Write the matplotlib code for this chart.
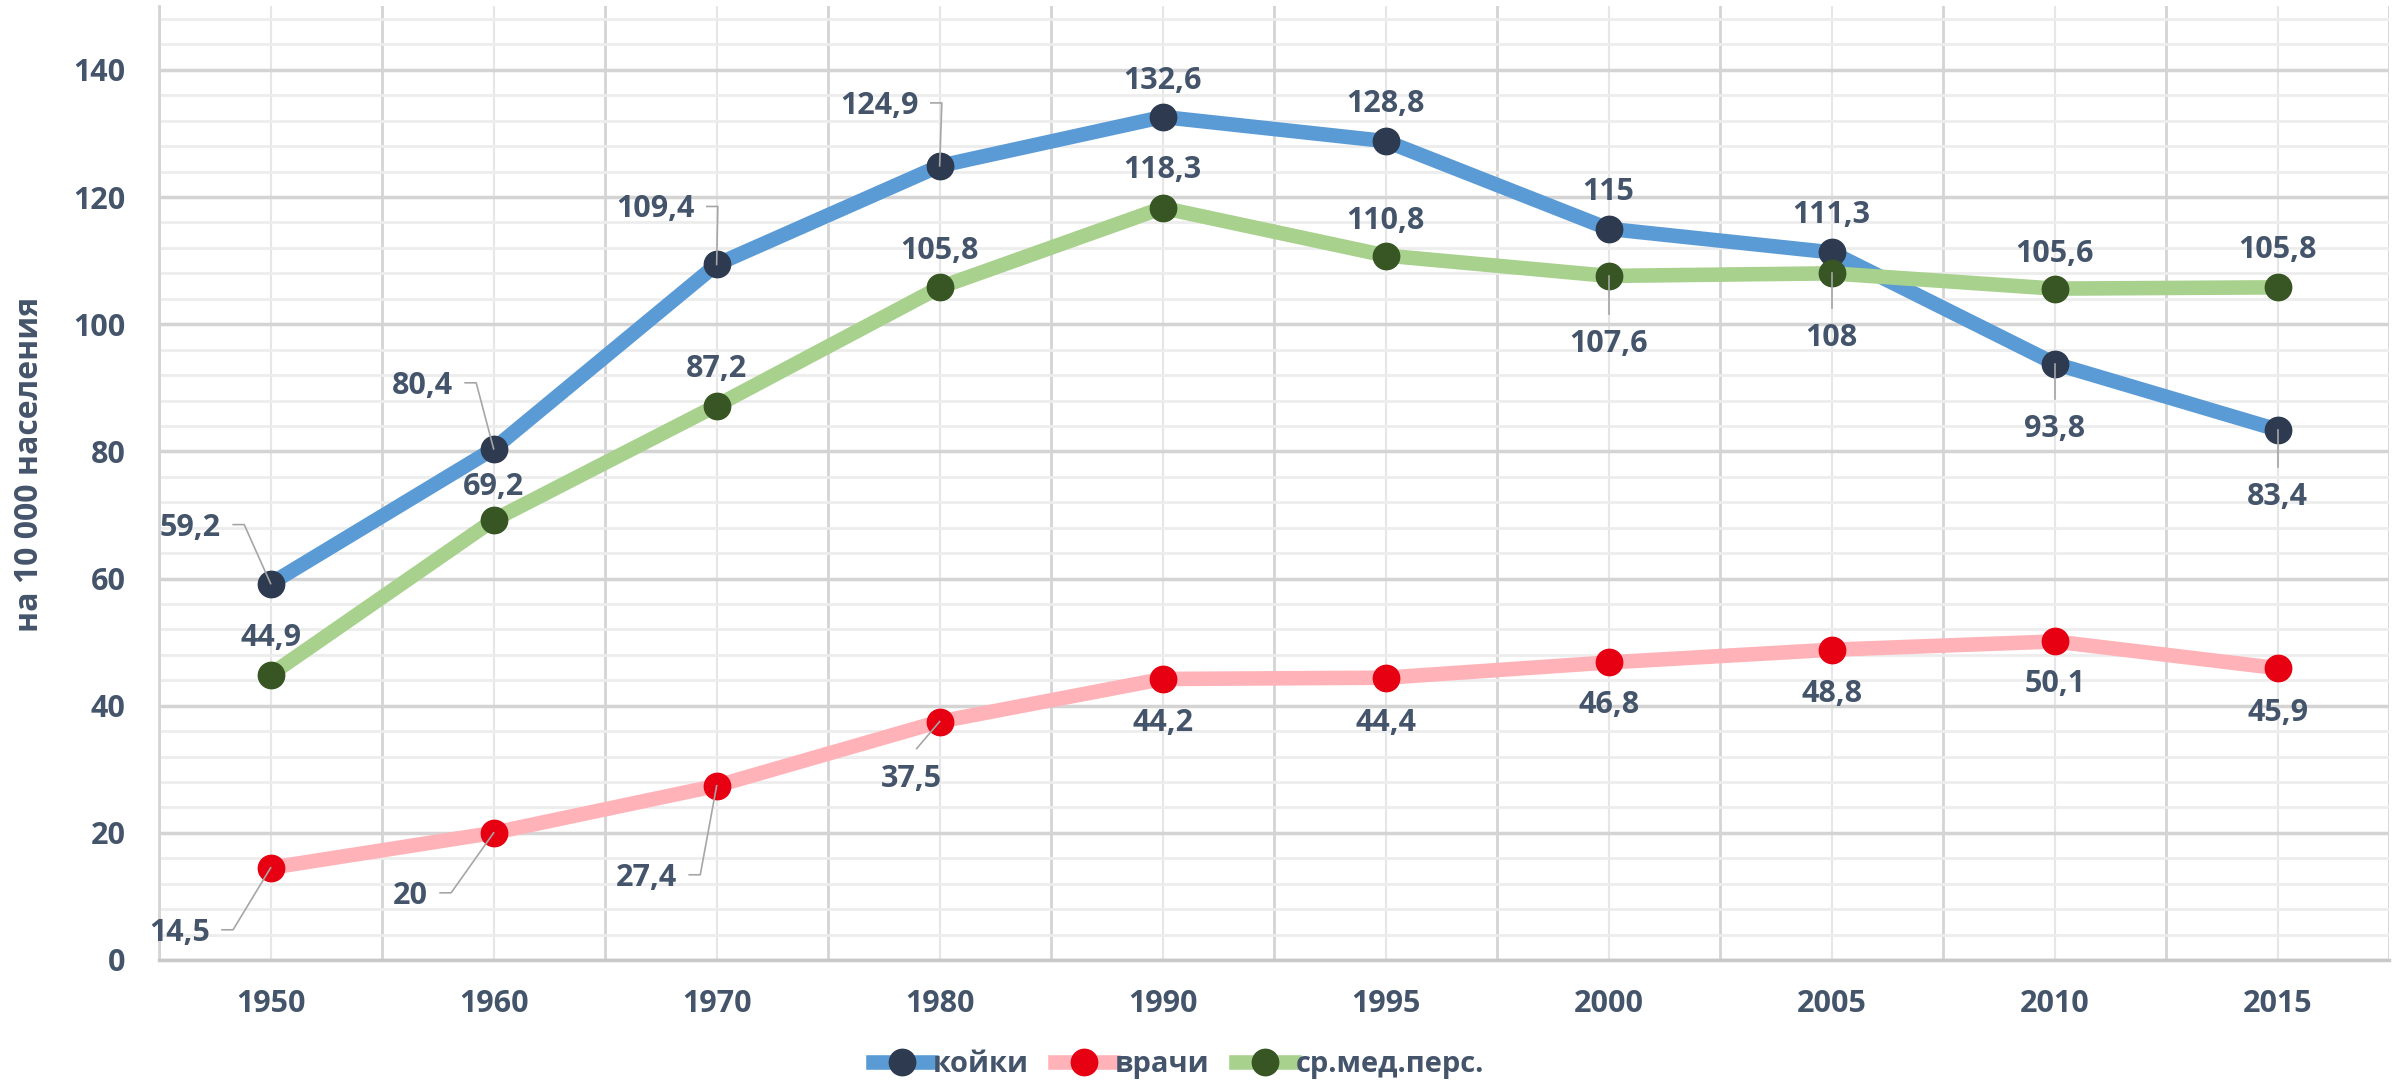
import matplotlib.pyplot as plt
import numpy as np
from matplotlib.lines import Line2D

plt.rcParams['font.family'] = ['Open Sans', 'DejaVu Sans']

years = ["1950", "1960", "1970", "1980", "1990", "1995", "2000", "2005", "2010", "2015"]
beds = [59.2, 80.4, 109.4, 124.9, 132.6, 128.8, 115, 111.3, 93.8, 83.4]
doctors = [14.5, 20, 27.4, 37.5, 44.2, 44.4, 46.8, 48.8, 50.1, 45.9]
nurses = [44.9, 69.2, 87.2, 105.8, 118.3, 110.8, 107.6, 108, 105.6, 105.8]
names = ["койки", "врачи", "ср.мед.перс."]
ylabel = "на 10 000 населения"

# label offsets from the point in pixels (up positive) + leader kind
beds_lab = [(-80, 56, "side"), (-71, 63, "side"), (-61, 55, "side"), (-60, 60, "side"),
            (0, 36, None), (0, 37, None), (0, 37, None), (0, 37, None),
            (0, -65, "up"), (0, -67, "up")]
doc_lab = [(-91, -65, "side"), (-83, -63, "side"), (-70, -92, "side"), (-28, -57, "up"),
           (0, -44, None), (0, -45, None), (0, -43, None), (0, -44, None),
           (0, -43, None), (0, -45, None)]
nurse_lab = [(0, 37, None), (0, 33, None), (0, 37, None), (0, 36, None),
             (0, 38, None), (0, 35, None), (0, -68, "up"), (0, -65, "up"),
             (0, 35, None), (0, 37, None)]

line_colors = ["#5B9BD5", "#FFB3B8", "#A9D18E"]
marker_colors = ["#2E3A4F", "#E60012", "#375623"]
txt_color = "#44546A"
lead_color = "#A6A6A6"
fs = 22

fig = plt.figure(figsize=(24, 10.92), dpi=100)
ax = fig.add_axes([0.0663, 0.1209, 0.9292, 0.8733])

x = np.arange(len(years))
ax.set_xlim(-0.5, len(years) - 0.5)
ax.set_ylim(0, 150)

all_vals = [beds, doctors, nurses]
for i, vals in enumerate(all_vals):
    ax.plot(x, vals, color=line_colors[i], lw=10.5, solid_capstyle="round",
            solid_joinstyle="round", zorder=3 + i)
    ax.plot(x, vals, ls="none", marker="o", ms=19, mfc=marker_colors[i],
            mec=marker_colors[i], zorder=3 + i)

# data labels
texts = []
for vals, labs in zip(all_vals, [beds_lab, doc_lab, nurse_lab]):
    for xi, v, (dx, dy, kind) in zip(x, vals, labs):
        t = ax.annotate(f"{v:g}".replace(".", ","), (xi, v), xytext=(dx * 0.72, dy * 0.72),
                        textcoords="offset points", ha="center", va="center",
                        fontsize=fs, fontweight="bold", color=txt_color, zorder=10)
        texts.append((t, xi, v, kind))

# grid
ax.set_xticks(x)
ax.set_xticklabels(years)
ax.set_xticks(np.arange(-0.5, len(years), 1), minor=True)
ax.set_yticks(np.arange(0, 141, 20))
ax.set_yticks(np.arange(0, 150, 4), minor=True)
ax.set_axisbelow(True)
ax.grid(which="major", axis="x", color="#E6E6E6", lw=1.5)
ax.grid(which="minor", axis="x", color="#D4D4D4", lw=2.0)
ax.grid(which="major", axis="y", color="#D4D4D4", lw=2.5)
ax.grid(which="minor", axis="y", color="#EDEDED", lw=2.0)
ax.tick_params(which="both", length=0)
ax.tick_params(axis="y", pad=24, labelsize=fs, labelcolor=txt_color)
ax.tick_params(axis="x", pad=21, labelsize=fs, labelcolor=txt_color)
for lab in ax.get_xticklabels() + ax.get_yticklabels():
    lab.set_fontweight("bold")
for s in ["top", "right"]:
    ax.spines[s].set_visible(False)
ax.spines["left"].set_color("#D4D4D4")
ax.spines["left"].set_linewidth(2.0)
ax.spines["bottom"].set_color("#C8C8C8")
ax.spines["bottom"].set_linewidth(2.5)

ax.set_ylabel(ylabel, fontsize=23, fontweight="bold", color=txt_color, va="center")
ax.yaxis.set_label_coords(-0.058, 0.52)

# leader lines
fig.canvas.draw()
r = fig.canvas.get_renderer()
inv = ax.transData.inverted()
for t, xi, v, kind in texts:
    if kind is None:
        continue
    bb = t.get_window_extent(r)
    px, py = ax.transData.transform((xi, v))
    cy = (bb.y0 + bb.y1) / 2
    cx = (bb.x0 + bb.x1) / 2
    if kind == "side":
        pts = [(bb.x1 + 12, cy + 3), (bb.x1 + 23, cy + 3), (px, py)]
    else:
        pts = [(cx + (5 if abs(cx - px) > 5 else 0), cy + 30), (px, py)]
    d = inv.transform(pts)
    ax.plot(d[:, 0], d[:, 1], color=lead_color, lw=1.2, zorder=9, clip_on=False)

handles = [Line2D([], [], color=line_colors[i], lw=10.5, marker="o", ms=19,
                  mfc=marker_colors[i], mec=marker_colors[i]) for i in range(3)]
fig.legend(handles, names, loc="center", bbox_to_anchor=(0.491, 0.025), ncol=3,
           frameon=False, prop={"size": 21, "weight": "bold"}, labelcolor=txt_color,
           handlelength=2.0, handletextpad=0.05, columnspacing=0.9)

fig.savefig("out.png", dpi=100)
